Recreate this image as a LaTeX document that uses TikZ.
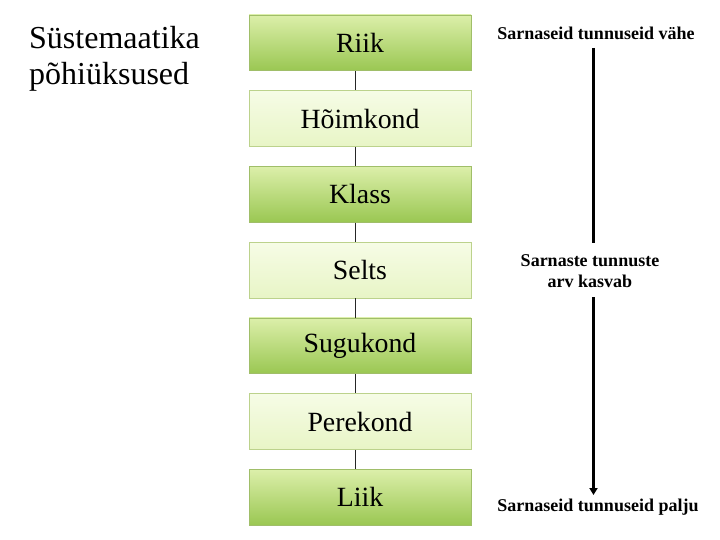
\documentclass[tikz,border=0pt]{standalone}
\usepackage{fontspec}
\setmainfont{Liberation Serif}
\usetikzlibrary{arrows.meta}
\definecolor{darktop}{RGB}{220,239,170}
\definecolor{darkbot}{RGB}{154,199,82}
\definecolor{darkline}{RGB}{160,190,105}
\definecolor{lighttop}{RGB}{246,252,230}
\definecolor{lightbot}{RGB}{232,245,198}
\definecolor{lightline}{RGB}{188,210,140}
\tikzset{
  rankbox/.style={minimum width=222pt, minimum height=55.7pt, inner sep=0pt,
    font=\fontsize{27.8}{30}\selectfont, line width=0.8pt},
  darkbox/.style={rankbox, draw=darkline, top color=darktop, bottom color=darkbot},
  lightbox/.style={rankbox, draw=lightline, top color=lighttop, bottom color=lightbot},
  link/.style={draw=black!85, line width=0.8pt},
  sidenote/.style={font=\bfseries\fontsize{18}{21}\selectfont, align=center, inner sep=0pt},
  trend/.style={line width=2.5pt, line cap=butt}
}
\begin{document}
\begin{tikzpicture}[x=1pt,y=-1pt]
\useasboundingbox (0,0) rectangle (720,540);
\node[anchor=base west, align=left, inner sep=0pt, font=\fontsize{32}{36}\selectfont] (title) at (29,85) {Süstemaatika\\põhiüksused};
\node[darkbox]  (riik)  at (360,42.8)  {Riik};
\node[lightbox] (hoim)  at (360,118.55) {Hõimkond};
\node[darkbox]  (klass) at (360,194.3) {Klass};
\node[lightbox] (selts) at (360,270.05) {Selts};
\node[darkbox]  (sugu)  at (360,345.8) {Sugukond};
\node[lightbox] (pere)  at (360,421.55) {Perekond};
\node[darkbox]  (liik)  at (360,497.3) {Liik};
\foreach \a/\b in {riik/hoim,hoim/klass,klass/selts,selts/sugu,sugu/pere,pere/liik}
  \draw[link] ([xshift=-4.5pt]\a.south) -- ([xshift=-4.5pt]\b.north);
\node[sidenote] (few) at (596,33) {Sarnaseid tunnuseid vähe};
\node[sidenote] (grow) at (590,271) {Sarnaste tunnuste\\arv kasvab};
\node[sidenote] (many) at (598,507) {Sarnaseid tunnuseid palju};
\coordinate (t1) at (593.5,48);
\coordinate (t2) at (593.5,243);
\coordinate (t3) at (593.5,297);
\coordinate (t4) at (593.5,495);
\draw[trend] (t1) -- (t2);
\draw[trend, -{Triangle[width=8pt,length=7pt]}] (t3) -- (t4);
\end{tikzpicture}
\end{document}
